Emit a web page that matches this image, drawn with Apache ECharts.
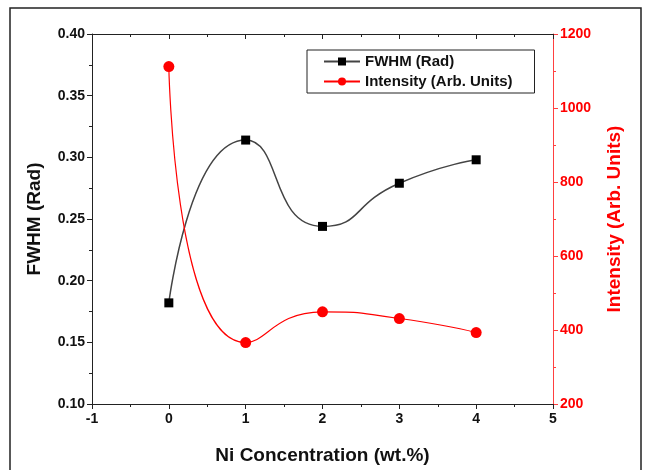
<!DOCTYPE html>
<html>
<head>
<meta charset="utf-8">
<script src="https://cdn.jsdelivr.net/npm/echarts@6/dist/echarts.min.js"></script>
<style>html,body{margin:0;padding:0;background:#fff}#c{width:649px;height:470px}</style>
</head>
<body>
<div id="c"></div>
<script>
var xValues = [0, 1, 2, 3, 4];
var fwhm = [0.182, 0.314, 0.244, 0.279, 0.298];
var intensity = [1112, 366, 449, 431, 393];
var xTitle = 'Ni Concentration (wt.%)';
var leftTitle = 'FWHM (Rad)';
var rightTitle = 'Intensity (Arb. Units)';
var fwhmName = 'FWHM (Rad)';
var intName = 'Intensity (Arb. Units)';

var F = 'Liberation Sans, Arial, sans-serif';
var chart = echarts.init(document.getElementById('c'));
chart.setOption({
  animation: false,
  graphic: [{type:'rect', shape:{x:10, y:8, width:631, height:470}, style:{fill:'none', stroke:'#222', lineWidth:1.5}, silent:true}],
  grid: {left: 92, right: 96, top: 34, bottom: 65},
  legend: {
    orient: 'vertical', left: 307, top: 50, padding: [4, 22, 4, 16], itemGap: 5,
    itemWidth: 36, itemHeight: 10, borderColor: '#222', borderWidth: 1,
    textStyle: {fontFamily: F, fontWeight: 'bold', fontSize: 15, color: '#111'},
    data: [fwhmName, intName]
  },
  xAxis: [{
    type: 'value', min: -1, max: 5, interval: 1, position: 'bottom',
    name: xTitle, nameLocation: 'middle', nameGap: 42,
    nameTextStyle: {fontFamily: F, fontWeight: 'bold', fontSize: 19, color: '#111'},
    axisLine: {onZero: false, lineStyle: {color: '#222', width: 1}},
    axisTick: {inside: false, length: 5, lineStyle: {color: '#222'}},
    minorTick: {show: true, splitNumber: 2, length: 3, lineStyle: {color: '#222'}},
    axisLabel: {fontFamily: F, fontWeight: 'bold', fontSize: 14, color: '#111', margin: 8},
    splitLine: {show: false}
  }, {
    type: 'value', min: -1, max: 5, interval: 1, position: 'top',
    axisLine: {onZero: false, lineStyle: {color: '#222', width: 1}},
    axisTick: {inside: true, length: 5, lineStyle: {color: '#222'}},
    minorTick: {show: true, splitNumber: 2, length: 3, lineStyle: {color: '#222'}},
    axisLabel: {show: false}, splitLine: {show: false}
  }],
  yAxis: [{
    type: 'value', min: 0.10, max: 0.40, interval: 0.05, position: 'left',
    name: leftTitle, nameLocation: 'middle', nameGap: 48, nameRotate: 90,
    nameTextStyle: {fontFamily: F, fontWeight: 'bold', fontSize: 19, color: '#111'},
    axisLine: {show: true, onZero: false, lineStyle: {color: '#222', width: 1}},
    axisTick: {show: true, length: 5, lineStyle: {color: '#222'}},
    minorTick: {show: true, splitNumber: 2, length: 3, lineStyle: {color: '#222'}},
    axisLabel: {fontFamily: F, fontWeight: 'bold', fontSize: 14, color: '#111', margin: 7,
      formatter: function(v){return v.toFixed(2);}},
    splitLine: {show: false}
  }, {
    type: 'value', min: 200, max: 1200, interval: 200, position: 'right',
    name: rightTitle, nameLocation: 'middle', nameGap: 52, nameRotate: 90,
    nameTextStyle: {fontFamily: F, fontWeight: 'bold', fontSize: 19, color: '#ff0000'},
    axisLine: {show: true, onZero: false, lineStyle: {color: '#ff4040', width: 1}},
    axisTick: {show: true, length: 5, lineStyle: {color: '#ff4040'}},
    minorTick: {show: true, splitNumber: 2, length: 3, lineStyle: {color: '#ff4040'}},
    axisLabel: {fontFamily: F, fontWeight: 'bold', fontSize: 14, color: '#ff0000', margin: 7,
      formatter: function(v){return String(v);}},
    splitLine: {show: false}
  }],
  series: [{
    name: fwhmName, type: 'line', xAxisIndex: 0, yAxisIndex: 0, smooth: 0.6,
    data: xValues.map(function(x, i){return [x, fwhm[i]];}),
    symbol: 'rect', symbolSize: 9,
    itemStyle: {color: '#000'},
    lineStyle: {color: '#444', width: 1.5}
  }, {
    name: intName, type: 'line', xAxisIndex: 0, yAxisIndex: 1, smooth: 0.6,
    data: xValues.map(function(x, i){return [x, intensity[i]];}),
    symbol: 'circle', symbolSize: 11,
    itemStyle: {color: '#ff0000'},
    lineStyle: {color: '#ff0000', width: 1.2}
  }]
});
</script>
</body>
</html>
